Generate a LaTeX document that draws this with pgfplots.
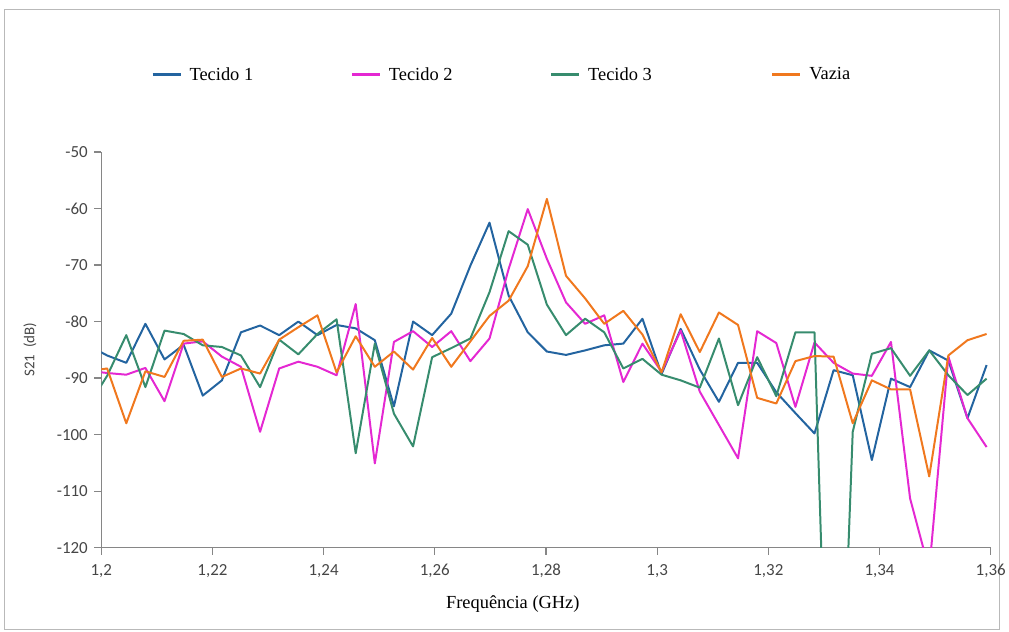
\documentclass[border=0pt]{standalone}
\usepackage{pgfplots}
\pgfplotsset{compat=1.18}
\usepackage{pgfplotstable}
\usepackage{fontspec}
\setmainfont{Liberation Serif}
\newfontfamily\tickfont{Carlito}

\definecolor{cT1}{RGB}{35,100,160}
\definecolor{cT2}{RGB}{228,40,210}
\definecolor{cT3}{RGB}{55,140,110}
\definecolor{cVz}{RGB}{240,120,30}
\definecolor{axgray}{RGB}{134,134,134}
\definecolor{lblgray}{RGB}{70,70,70}

% S21 (dB) against frequency (GHz)
\pgfplotstableread{
f        t1      t2      t3      vz
1.19762  -84.2   -88.7   -95.0   -88.8
1.20106  -86.0   -89.1   -89.6   -88.3
1.20450  -87.3   -89.4   -82.4   -98.0
1.20794  -80.4   -88.2   -91.6   -88.8
1.21138  -86.7   -94.1   -81.6   -89.8
1.21482  -84.1   -83.9   -82.2   -83.4
1.21826  -93.1   -83.5   -84.2   -83.2
1.22170  -90.4   -86.2   -84.5   -89.8
1.22513  -81.9   -88.0   -86.0   -88.3
1.22857  -80.7   -99.5   -91.6   -89.2
1.23201  -82.4   -88.3   -83.2   -83.2
1.23545  -80.0   -87.1   -85.8   -81.0
1.23889  -82.4   -88.0   -82.2   -78.9
1.24233  -80.6   -89.5   -79.6   -89.0
1.24577  -81.2   -76.9   -103.3  -82.6
1.24921  -83.3   -105.1  -83.9   -88.0
1.25265  -95.0   -83.6   -96.3   -85.3
1.25609  -80.0   -81.7   -102.1  -88.5
1.25952  -82.4   -84.5   -86.3   -82.9
1.26296  -78.6   -81.7   -84.7   -88.0
1.26640  -70.1   -87.0   -83.0   -83.5
1.26984  -62.5   -83.0   -74.8   -79.0
1.27328  -75.4   -70.7   -64.0   -76.3
1.27672  -81.9   -60.1   -66.4   -70.2
1.28016  -85.3   -68.9   -77.0   -58.3
1.28360  -85.9   -76.6   -82.4   -71.9
1.28704  -85.1   -80.4   -79.5   -75.9
1.29048  -84.2   -78.9   -81.9   -80.4
1.29391  -83.9   -90.7   -88.3   -78.1
1.29735  -79.5   -83.9   -86.6   -82.3
1.30079  -89.3   -88.9   -89.4   -89.0
1.30423  -81.3   -81.6   -90.4   -78.7
1.30767  -88.5   -92.4   -91.7   -85.4
1.31111  -94.2   -98.3   -83.0   -78.4
1.31455  -87.3   -104.2  -94.8   -80.6
1.31799  -87.3   -81.7   -86.3   -93.5
1.32143  -92.5   -83.8   -93.2   -94.5
1.32487  -96.2   -95.1   -81.9   -87.0
1.32830  -99.8   -83.7   -81.9   -86.1
1.33174  -88.6   -87.3   -190.0  -86.2
1.33518  -89.5   -89.2   -99.5   -98.0
1.33862  -104.5  -89.6   -85.7   -90.4
1.34206  -90.1   -83.6   -84.7   -92.0
1.34550  -91.6   -111.3  -89.6   -92.0
1.34894  -85.1   -124.0  -85.1   -107.4
1.35238  -86.9   -86.2   -89.5   -86.0
1.35582  -97.1   -97.1   -93.0   -83.3
1.35926  -87.7   -102.2  -90.1   -82.2
}\sparam

\begin{document}
\begin{tikzpicture}
% page area and outer frame
\path (0pt,0pt) rectangle (1009pt,634pt);
\draw[gray!55, line width=1pt] (5pt,2pt) rectangle (1004pt,624pt);

\begin{axis}[
  at={(101.7pt,84pt)}, anchor=south west,
  width=893.3pt, height=397.3pt, scale only axis,
  xmin=1.2, xmax=1.36, ymin=-120, ymax=-50,
  axis x line*=bottom, axis y line*=left,
  axis line style={axgray, line width=1.2pt},
  every tick/.style={axgray, line width=1.2pt},
  tick align=outside, major tick length=7pt,
  xtick={1.2,1.22,1.24,1.26,1.28,1.3,1.32,1.34,1.36},
  xticklabels={{1,2},{1,22},{1,24},{1,26},{1,28},{1,3},{1,32},{1,34},{1,36}},
  ytick={-120,-110,-100,-90,-80,-70,-60,-50},
  /pgf/number format/assume math mode=true,
  tick label style={font=\tickfont\fontsize{17}{20}\selectfont, text=lblgray},
  xticklabel style={yshift=-6pt},
  yticklabel style={xshift=-3pt},
  xlabel={Frequência (GHz)},
  xlabel style={at={(axis description cs:0.4627,-0.1435)}, anchor=center,
    font=\fontsize{18.5}{22}\selectfont},
  ylabel={S21\ \ (dB)},
  ylabel style={at={(axis description cs:-0.0803,0.5)}, anchor=center, rotate=0,
    font=\tickfont\fontsize{15}{18}\selectfont, text=lblgray},
  legend columns=4,
  legend style={at={(axis description cs:0.0563,1.196)}, anchor=west,
    draw=none, fill=none, inner sep=0pt,
    font=\fontsize{18.5}{22}\selectfont,
    /tikz/every even column/.append style={column sep=96pt},
    /tikz/every odd column/.append style={column sep=6pt}},
  legend cell align=left,
  legend image code/.code={\draw[#1, line width=2.2pt] (0pt,0pt) -- (28pt,0pt);},
  every axis plot/.append style={line width=2pt, line join=round},
]
\addplot[cT1, mark=none] table[x=f, y=t1] {\sparam};
\addlegendentry{Tecido 1}
\addplot[cT2, mark=none] table[x=f, y=t2] {\sparam};
\addlegendentry{Tecido 2}
\addplot[cT3, mark=none] table[x=f, y=t3] {\sparam};
\addlegendentry{Tecido 3\rule{22pt}{0pt}}
\addplot[cVz, mark=none] table[x=f, y=vz] {\sparam};
\addlegendentry{Vazia}
\end{axis}
\end{tikzpicture}
\end{document}
